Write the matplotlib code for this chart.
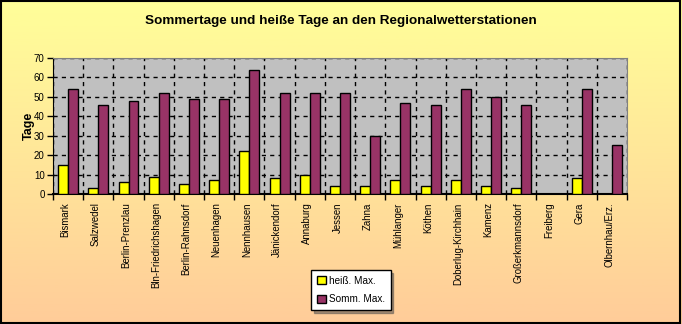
import numpy as np
import matplotlib
matplotlib.use("Agg")
import matplotlib.pyplot as plt
from matplotlib.colors import LinearSegmentedColormap
from matplotlib.patches import Rectangle

stationen = ["Bismark", "Salzwedel", "Berlin-Prenzlau", "Bln-Friedrichshagen",
             "Berlin-Rahnsdorf", "Neuenhagen", "Nennhausen", "Jänickendorf",
             "Annaburg", "Jessen", "Zahna", "Mühlanger", "Köthen",
             "Doberlug-Kirchhain", "Kamenz", "Großerkmannsdorf", "Freiberg",
             "Gera", "Olbernhau/Erz."]
heiss_max = [15, 3, 6, 9, 5, 7, 22, 8, 10, 4, 4, 7, 4, 7, 4, 3, 0, 8, 0]
somm_max = [54, 46, 48, 52, 49, 49, 64, 52, 52, 52, 30, 47, 46, 54, 50, 46, 0, 54, 25]

plt.rcParams['font.family'] = ['Liberation Sans', 'DejaVu Sans']

fig = plt.figure(figsize=(6.82, 3.24), dpi=100)

# yellow-to-peach background
bg = fig.add_axes([0, 0, 1, 1], zorder=-10)
cmap = LinearSegmentedColormap.from_list("bg", ["#ffff99", "#ffcc99"])
bg.imshow(np.linspace(0, 1, 256).reshape(-1, 1), aspect="auto", cmap=cmap,
          extent=[0, 1, 0, 1])
bg.add_patch(Rectangle((0.001, 0.002), 0.996, 0.995, fill=False, lw=1.5,
                       edgecolor="black", transform=bg.transAxes))
bg.set_axis_off()

W, H = 682, 324
left, right, top, bottom = 53, 627, 58, 194
ax = fig.add_axes([left / W, 1 - bottom / H, (right - left) / W, (bottom - top) / H])
ax.set_facecolor("#c0c0c0")

x = np.arange(len(stationen))
bw = 0.33
ax.bar(x - bw / 2, heiss_max, bw, color="#ffff00", edgecolor="black", lw=1,
       label="heiß. Max.", zorder=3)
ax.bar(x + bw / 2, somm_max, bw, color="#993366", edgecolor="black", lw=1,
       label="Somm. Max.", zorder=3)

ax.set_xlim(-0.5, len(stationen) - 0.5)
ax.set_ylim(0, 70)
ax.set_yticks(range(0, 71, 10))
ax.set_xticks(x - 0.08)
ax.set_xticklabels(stationen, rotation=90, fontsize=6.9)
ax.tick_params(axis="x", length=0, pad=6)
ax.tick_params(axis="y", labelsize=7, length=4, width=1, pad=2)

# dashed grid, vertical lines between stations
ax.set_xticks(np.arange(-0.5, len(stationen), 1), minor=True)
ax.tick_params(axis="x", which="minor", length=4, width=1, direction="out")
ax.grid(axis="y", color="black", ls=(0, (3, 3)), lw=1, zorder=1)
ax.grid(axis="x", which="minor", color="black", ls=(0, (3, 3)), lw=1, zorder=1)
ax.grid(axis="x", which="major", visible=False)

for s in ["top", "right"]:
    ax.spines[s].set_color("#808080")
ax.spines["left"].set_color("black")
ax.spines["bottom"].set_color("black")
ax.spines["bottom"].set_linewidth(1.5)

ax.set_ylabel("Tage", fontsize=9, fontweight="bold", labelpad=-1)

fig.text(341 / W, 1 - 21 / H, "Sommertage und heiße Tage an den Regionalwetterstationen",
         ha="center", va="center", fontsize=9.7, fontweight="bold")

leg = fig.legend(loc="center", bbox_to_anchor=(351 / W, 1 - 290 / H), fontsize=7.2,
                 frameon=True, fancybox=False, shadow=True, edgecolor="black",
                 handlelength=0.9, handleheight=0.9, handletextpad=0.3,
                 borderpad=0.55, labelspacing=0.9)
leg.get_frame().set_linewidth(1)

fig.savefig("out.png", dpi=100)
